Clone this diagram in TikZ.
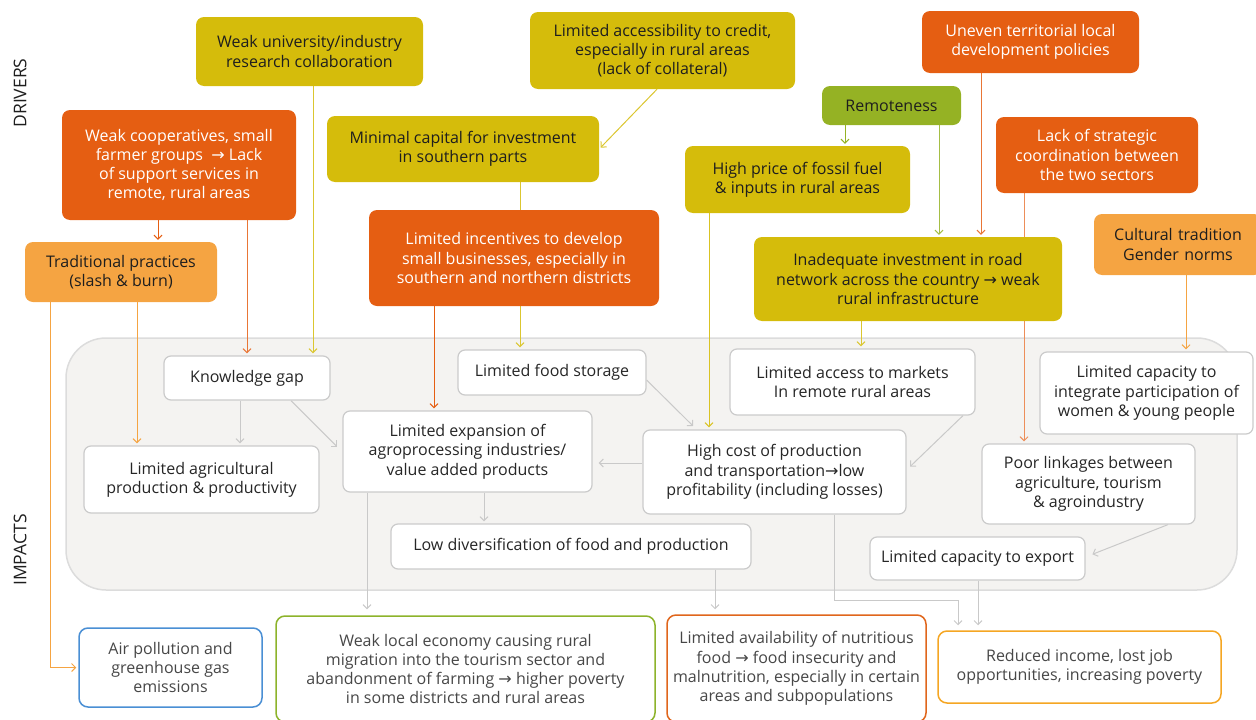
\documentclass[tikz,border=0pt]{standalone}
\usepackage{fontspec}
\setmainfont{Open Sans}
\newfontfamily\dvfont{DejaVu Sans}
\usetikzlibrary{arrows.meta}
\newcommand{\myarr}{{\dvfont\char"2192}}
\definecolor{yel}{HTML}{D5BC0B}
\definecolor{dor}{HTML}{E55E12}
\definecolor{lor}{HTML}{F5A442}
\definecolor{grn}{HTML}{95B224}
\definecolor{gline}{HTML}{C9C9C9}
\definecolor{gbox}{HTML}{CBCBCB}
\definecolor{panelfill}{HTML}{F4F3F1}
\definecolor{panelline}{HTML}{DCDCDC}
\definecolor{txt}{HTML}{1E1E1E}
\definecolor{itxt}{HTML}{262626}
\definecolor{blu}{HTML}{4A8FD4}
\definecolor{ogrn}{HTML}{8DB32B}
\definecolor{ored}{HTML}{E0661C}
\definecolor{oorg}{HTML}{F5A623}
\pgfdeclarelayer{panel}
\pgfdeclarelayer{links}
\pgfsetlayers{panel,links,main}
\tikzset{
  drv/.style={rounded corners=8pt, inner sep=0pt, align=center, text=txt,
    font=\fontsize{16}{19.3}\selectfont},
  wtxt/.style={text=white},
  imp/.style={rounded corners=7pt, inner sep=0pt, align=center, fill=white,
    draw=gbox, line width=1.2pt, text=itxt, font=\fontsize{16}{19.3}\selectfont},
  outc/.style={rounded corners=9pt, inner sep=0pt, align=center, fill=white,
    line width=1.5pt, text=itxt!85, font=\fontsize{16}{19.3}\selectfont},
  lnk/.style={line width=1pt, shorten >=2pt, -{Straight Barb[length=4pt,width=8pt]}},
  glnk/.style={lnk, draw=gline},
  side/.style={text=txt, font=\fontsize{17.5}{19}\selectfont, rotate=90}
}
\begin{document}
\begin{tikzpicture}[x=1pt,y=-1pt]
\useasboundingbox (0,0) rectangle (1256,720);
% side labels
\node[side] (drivers) at (20,93) {DRIVERS};
\node[side] (impacts) at (20,550) {IMPACTS};
% drivers
\node[drv, fill=yel, minimum width=227pt, minimum height=69pt] (univ) at (309.5,51.5) {Weak university/industry\\research collaboration};
\node[drv, wtxt, fill=dor, minimum width=234pt, minimum height=110pt] (coop) at (179,165) {Weak cooperatives, small\\farmer groups \ \myarr\ Lack\\of support services in\\remote, rural areas};
\node[drv, fill=lor, minimum width=192pt, minimum height=60pt] (trad) at (121,272) {Traditional practices\\(slash \& burn)};
\node[drv, fill=yel, minimum width=272pt, minimum height=66pt] (capital) at (463,149) {Minimal capital for investment\\in southern parts};
\node[drv, fill=yel, minimum width=265pt, minimum height=77pt] (credit) at (662.5,50.5) {Limited accessibility to credit,\\especially in rural areas\\(lack of collateral)};
\node[drv, wtxt, fill=dor, minimum width=290pt, minimum height=96pt] (incent) at (514,258) {Limited incentives to develop\\small businesses, especially in\\southern and northern districts};
\node[drv, fill=grn, minimum width=139pt, minimum height=39pt] (remote) at (891.5,105.5) {Remoteness};
\node[drv, fill=yel, minimum width=225pt, minimum height=67pt] (fuel) at (797.5,179.5) {High price of fossil fuel\\\& inputs in rural areas};
\node[drv, wtxt, fill=dor, minimum width=217pt, minimum height=62pt] (uneven) at (1030.5,42) {Uneven territorial local\\development policies};
\node[drv, wtxt, fill=dor, minimum width=202pt, minimum height=76pt] (lack) at (1097,155) {Lack of strategic\\coordination between\\the two sectors};
\node[drv, fill=yel, minimum width=308pt, minimum height=84pt] (road) at (908,279) {Inadequate investment in road\\network across the country \myarr\ weak\\rural infrastructure};
\node[drv, fill=lor, minimum width=168pt, minimum height=61pt, text width=164pt] (cultural) at (1178,244.5) {Cultural tradition\\Gender norms};
% impacts panel
\begin{pgfonlayer}{panel}
\path[fill=panelfill, draw=panelline, line width=1.5pt, rounded corners=40pt] (66,338) rectangle (1237,590);
\end{pgfonlayer}
\node[imp, minimum width=166pt, minimum height=44pt] (kgap) at (247,378) {Knowledge gap};
\node[imp, minimum width=188pt, minimum height=45pt] (storage) at (552,372.5) {Limited food storage};
\node[imp, minimum width=245pt, minimum height=66pt] (markets) at (852.5,382) {Limited access to markets\\In remote rural areas};
\node[imp, minimum width=213pt, minimum height=82pt] (women) at (1146.5,393) {Limited capacity to\\integrate participation of\\women \& young people};
\node[imp, minimum width=235pt, minimum height=67pt] (agri) at (201.5,479.5) {Limited agricultural\\production \& productivity};
\node[imp, minimum width=249pt, minimum height=81pt] (agro) at (467.5,451.5) {Limited expansion of\\agroprocessing industries/\\value added products};
\node[imp, minimum width=263pt, minimum height=84pt] (cost) at (774.5,472) {High cost of production\\and transportation\myarr low\\profitability (including losses)};
\node[imp, minimum width=213pt, minimum height=80pt] (linkages) at (1088.5,484) {Poor linkages between\\agriculture, tourism\\\& agroindustry};
\node[imp, minimum width=360pt, minimum height=45pt] (lowdiv) at (571,546.5) {Low diversification of food and production};
\node[imp, minimum width=215pt, minimum height=43pt] (export) at (977.5,558.5) {Limited capacity to export};
% outcomes
\node[outc, draw=blu, minimum width=183pt, minimum height=79pt] (air) at (170.5,667.5) {Air pollution and\\greenhouse gas\\emissions};
\node[outc, draw=ogrn, minimum width=379pt, minimum height=106pt] (weak) at (465.5,669) {Weak local economy causing rural\\migration into the tourism sector and\\abandonment of farming \myarr\ higher poverty\\in some districts and rural areas};
\node[outc, draw=ored, minimum width=259pt, minimum height=107pt] (nutri) at (796.5,668.5) {Limited availability of nutritious\\food \myarr\ food insecurity and\\malnutrition, especially in certain\\areas and subpopulations};
\node[outc, draw=oorg, minimum width=283pt, minimum height=72pt] (income) at (1079.5,667) {Reduced income, lost job\\opportunities, increasing poverty};
\coordinate (bend) at (958,600);
% connectors
\begin{pgfonlayer}{links}
\draw[lnk, draw=dor] ([xshift=-21pt]coop.south) -- ([xshift=37pt]trad.north);
\draw[lnk, draw=dor!85] ([xshift=68pt]coop.south) -- (kgap.north);
\draw[lnk, draw=yel!85] ([xshift=3.5pt]univ.south) -- ([xshift=66pt]kgap.north);
\draw[lnk, draw=lor] ([xshift=16pt]trad.south) -- ([xshift=-64.5pt]agri.north);
\draw[lnk, draw=lor] ([xshift=-71pt]trad.south) |- (air.west);
\draw[lnk, draw=yel!85] ([xshift=57pt]capital.south) -- ([xshift=-32pt]storage.north);
\draw[lnk, draw=yel!85] ([xshift=-5.5pt]credit.south) -- (capital.east);
\draw[lnk, draw=dor] ([xshift=-80pt]incent.south) -- ([xshift=-33.5pt]agro.north);
\draw[lnk, draw=grn] ([xshift=-46.5pt]remote.south) -- ([xshift=47.5pt]fuel.north);
\draw[lnk, draw=grn!85] ([xshift=47.5pt]remote.south) -- ([xshift=31pt]road.north);
\draw[lnk, draw=dor!85] ([xshift=-49.5pt]uneven.south) -- ([xshift=73pt]road.north);
\draw[lnk, draw=dor!70] ([xshift=-73pt]lack.south) -- ([xshift=-64.5pt]linkages.north);
\draw[lnk, draw=lor] ([xshift=8pt]cultural.south) -- ([xshift=39.5pt]women.north);
\draw[lnk, draw=yel!90] ([xshift=-88.5pt]fuel.south) -- ([xshift=-65.5pt]cost.north);
\draw[lnk, draw=yel!85] ([xshift=-47pt]road.south) -- ([xshift=8.5pt]markets.north);
\draw[glnk] ([xshift=-7pt]kgap.south) -- ([xshift=38.5pt]agri.north);
\draw[glnk] ([xshift=44pt]kgap.south) -- ([xshift=-4pt,yshift=3.5pt]agro.west);
\draw[glnk] ([yshift=-7.5pt]storage.east) -- ([xshift=-80pt,yshift=2pt]cost.north);
\draw[glnk] ([xshift=110.5pt]markets.south) -- ([xshift=2pt,yshift=4pt]cost.east);
\draw[glnk] ([yshift=9pt]cost.west) -- ([xshift=4pt,yshift=-11.5pt]agro.east);
\draw[glnk] ([xshift=16.5pt]agro.south) -- ([xshift=-87pt]lowdiv.north);
\draw[glnk] ([xshift=-100.5pt]agro.south) -- ([xshift=-98.5pt,yshift=4pt]weak.north);
\draw[glnk] ([xshift=144pt]lowdiv.south) -- ([xshift=-81.5pt,yshift=3pt]nutri.north);
\draw[glnk] ([xshift=59.5pt]cost.south) |- (bend) -- ([xshift=-121.5pt,yshift=3pt]income.north);
\draw[glnk] ([xshift=0.5pt]export.south) -- ([xshift=-101.5pt,yshift=3pt]income.north);
\draw[glnk] ([xshift=79.5pt]linkages.south) -- ([xshift=5pt,yshift=3.5pt]export.east);
\end{pgfonlayer}
\end{tikzpicture}
\end{document}
